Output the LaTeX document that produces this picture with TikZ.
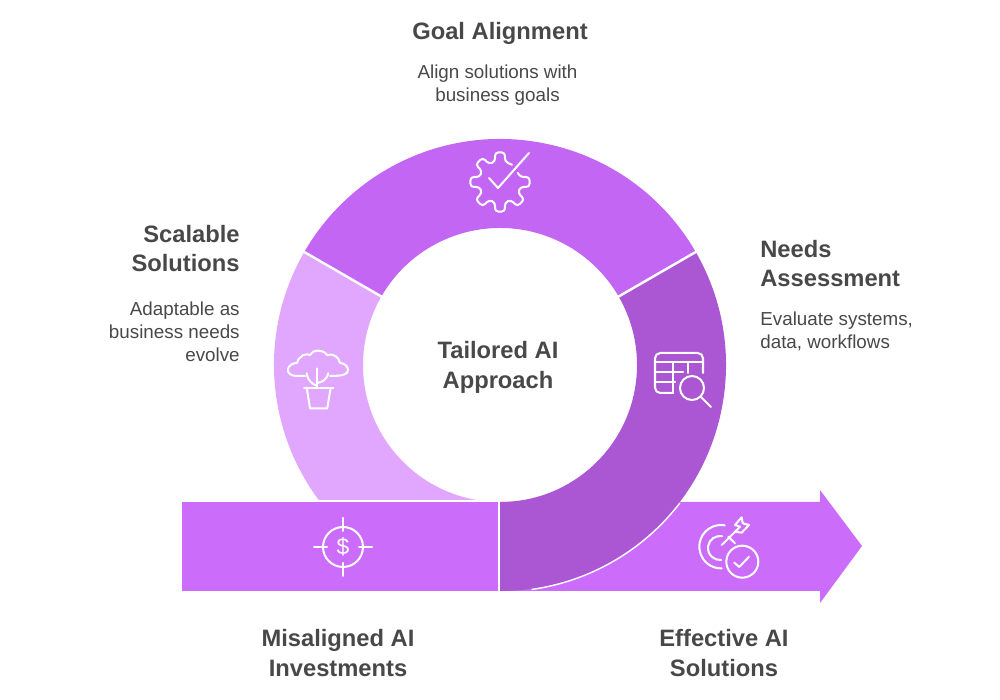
\documentclass[tikz,border=0pt]{standalone}
\usepackage{xcolor}
\usepackage{fontspec}
\setmainfont{Liberation Sans}
\usepackage{tikz}
\definecolor{ringmain}{HTML}{C466F4}
\definecolor{ringlight}{HTML}{E1A6FE}
\definecolor{ringdark}{HTML}{AB57D4}
\definecolor{barmain}{HTML}{CB6CFB}
\definecolor{inkgrey}{HTML}{484848}
\tikzset{
  headtext/.style={text=inkgrey,inner sep=0pt,font=\fontsize{13.5}{17}\selectfont\bfseries},
  bodytext/.style={text=inkgrey,inner sep=0pt,font=\fontsize{10.7}{13}\selectfont},
  iconline/.style={draw=white,line width=1.15pt,line cap=round,line join=round}
}

\begin{document}
\begin{tikzpicture}[x=0.2mm,y=0.2mm]
\useasboundingbox (0,0) rectangle (1000,700);

% arrow and bar
\fill[barmain] (501,198) -- (820,198) -- (820,210) -- (862,154) -- (820,97) -- (820,109) -- (501,109) -- cycle;
\fill[barmain] (182,198) rectangle (498,109);

% ring
\coordinate (ringc) at (500,335);
\fill[ringmain] (ringc) ++(30:226) arc[start angle=30,end angle=150,radius=226]
  -- ++(150:-89) arc[start angle=150,end angle=30,radius=137] -- cycle;
\begin{scope}
\clip (0,200) rectangle (1000,700);
\fill[ringlight] (ringc) ++(150:226) arc[start angle=150,end angle=270,radius=226]
  -- ++(0,89) arc[start angle=270,end angle=150,radius=137] -- cycle;
\end{scope}
\fill[ringdark] (ringc) ++(30:226) arc[start angle=30,end angle=-90,radius=226]
  -- ++(0,89) arc[start angle=-90,end angle=30,radius=137] -- cycle;
\draw[white,line width=0.8pt] (ringc) ++(-37.5:226.7) arc[start angle=-37.5,end angle=-82,radius=226.7];
\draw[white,line width=1.4pt] (ringc) ++(30:228) -- ++(30:-93);
\draw[white,line width=1.4pt] (ringc) ++(150:228) -- ++(150:-93);

% gear
\begin{scope}[shift={(500,518)}]
\draw[iconline,rounded corners=2] (55:21)
  \foreach \a in {90,135,180,225,270,315,360} {
    -- (\a-13:21) -- (\a-10:30) -- (\a+10:30) -- (\a+13:21) }
  -- (27:20);
\draw[iconline] (-11,4) -- (-2,-6) -- (29,29);
\end{scope}

% table with lens
\begin{scope}[shift={(680,320)}]
\draw[iconline,rounded corners=3] (23,7) -- (23,27) -- (-25,27) -- (-25,-13) -- (-7,-13);
\draw[iconline] (-25,18) -- (23,18);
\draw[iconline] (-25,8) -- (3,8);
\draw[iconline] (-25,-2) -- (-5,-2);
\draw[iconline] (-7,18) -- (-7,-13);
\draw[iconline] (8,18) -- (8,7);
\draw[iconline] (12,-8) circle[radius=12];
\draw[iconline] (20.5,-16.5) -- (31,-27);
\end{scope}

% plant
\begin{scope}[shift={(317,322)}]
\draw[iconline] (-12,2) -- (-20,2) .. controls (-26,2) and (-30,5) .. (-29,9)
  .. controls (-28,13) and (-24,15) .. (-20,15) .. controls (-18,23) and (-10,25) .. (-7,23)
  .. controls (-4,29) and (6,29) .. (10,23) .. controls (16,25) and (22,21) .. (23,15)
  .. controls (28,15) and (31,11) .. (31,8) .. controls (31,4) and (27,2) .. (13,2);
\draw[iconline] (-13,-9.7) -- (16.3,-9.7);
\draw[iconline] (-10.3,-9.7) -- (-7,-30.3) -- (10.3,-30.3) -- (13.7,-9.7);
\draw[iconline] (0.3,9.7) -- (0.3,-9.7);
\draw[iconline] (-10.3,4.7) .. controls (-9,-3) and (-5,-6) .. (0.3,-8);
\draw[iconline] (11.3,4.7) .. controls (10,-1) and (6,-4) .. (0.3,-5);
\end{scope}

% dollar target
\begin{scope}[shift={(343,153)}]
\draw[iconline] (0,0) circle[radius=20];
\foreach \a in {0,90,180,270} {
  \draw[iconline] (\a:16) -- (\a:29);
}
\node (dollar) at (0,0) [text=white,font=\fontsize{13}{13}\selectfont]{\$};
\end{scope}

% target with check
\begin{scope}[shift={(721,153)}]
\draw[iconline] (0,0.3) ++(80:21.7) arc[start angle=80,end angle=272,radius=21.7];
\draw[iconline] (-1,-1) ++(80:12) arc[start angle=80,end angle=275,radius=12];
\draw[iconline] (21.3,-14.7) circle[radius=16];
\draw[iconline] (13.3,-15.7) -- (18.3,-20) -- (28,-9.7);
\draw[iconline] (0.7,2) -- (19,20.3);
\draw[iconline] (7.3,10.3) -- (14,3.7);
\draw[iconline] (19,20.3) -- (14,22) -- (20.7,29.7) -- (21.7,23.7) -- (28,22) -- (20.7,14.3) -- (14,15.3);
\end{scope}

% texts
\node (goal) at (500,667) [headtext]{Goal Alignment};
\node (goalnote) at (497.5,614.5) [bodytext,align=center]{Align solutions with\\business goals};
\node (scalable) at (240,451.5) [headtext,anchor=east,align=right]{Scalable\\Solutions};
\node (scalablenote) at (240,368) [bodytext,anchor=east,align=right]{Adaptable as\\business needs\\evolve};
\node (needs) at (760,436.5) [headtext,anchor=west,align=left]{Needs\\Assessment};
\node (needsnote) at (760,368.5) [bodytext,anchor=west,align=left]{Evaluate systems,\\data, workflows};
\node (tailored) at (498,333) [headtext,align=center]{Tailored AI\\Approach};
\node (misaligned) at (338,47) [headtext,align=center]{Misaligned AI\\Investments};
\node (effective) at (724,47) [headtext,align=center]{Effective AI\\Solutions};

\end{tikzpicture}
\end{document}
